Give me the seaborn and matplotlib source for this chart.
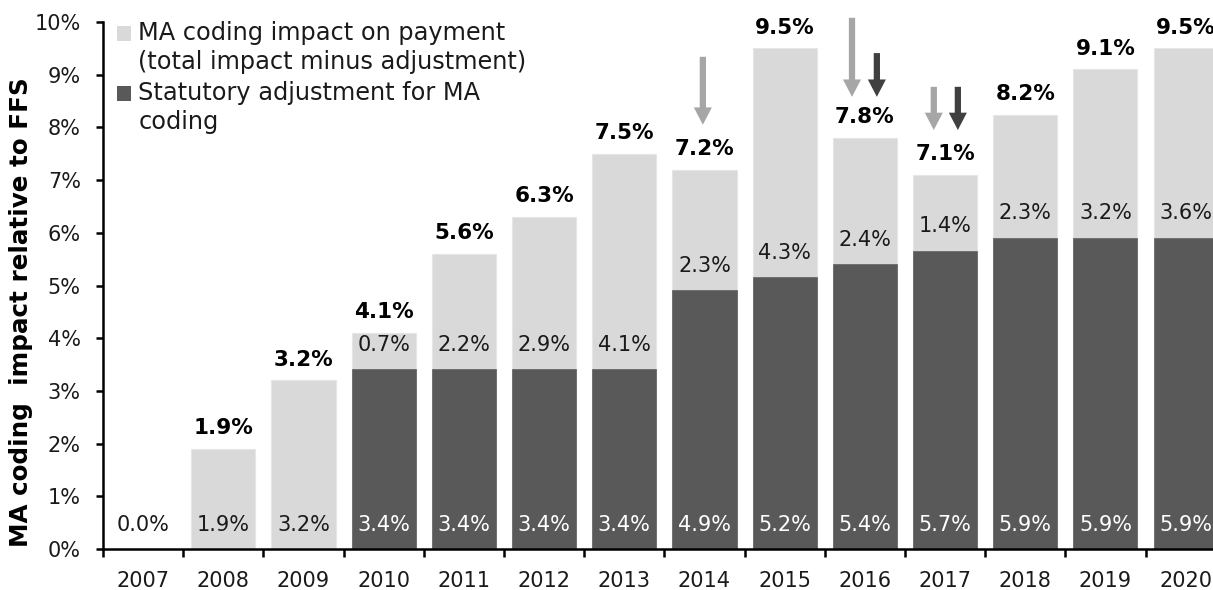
import matplotlib
matplotlib.use("Agg")
import matplotlib.pyplot as plt
from matplotlib.patches import Patch, Rectangle
from matplotlib.legend_handler import HandlerPatch
from matplotlib.ticker import FixedLocator, FuncFormatter
import seaborn as sns
import pandas as pd
import numpy as np

# ---- data ----
years = ["2007", "2008", "2009", "2010", "2011", "2012", "2013",
         "2014", "2015", "2016", "2017", "2018", "2019", "2020"]
statutory_adjustment = [0.0, 0.0, 0.0, 3.41, 3.41, 3.41, 3.41,
                        4.91, 5.16, 5.41, 5.66, 5.91, 5.91, 5.91]
coding_impact_on_payment = [0.0, 1.9, 3.2, 0.69, 2.19, 2.89, 4.09,
                            2.29, 4.34, 2.39, 1.44, 2.33, 3.19, 3.59]
y_ticks = [0, 1, 2, 3, 4, 5, 6, 7, 8, 9, 10]
legend_labels = ["MA coding impact on payment\n(total impact minus adjustment)",
                 "Statutory adjustment for MA\ncoding"]
y_label = "MA coding  impact relative to FFS"

LIGHT = "#d9d9d9"
DARK = "#595959"
ARROW_LIGHT = "#a6a6a6"
ARROW_DARK = "#404040"
TXT = "#1a1a1a"

sns.set_style("white")
plt.rcParams["font.family"] = ["DejaVu Sans"]

df = pd.DataFrame({
    "year": years,
    "adj": statutory_adjustment,
    "impact": coding_impact_on_payment,
})
df["total"] = df["adj"] + df["impact"]

W, H = 1213, 590
fig = plt.figure(figsize=(W / 100, H / 100), dpi=100)
ax = fig.add_axes([103 / W, 41 / H, 1122.7 / W, 527 / H])

sns.barplot(data=df, x="year", y="total", color=LIGHT, saturation=1,
            width=0.8, ax=ax, edgecolor="#e6e6e6", linewidth=0.8)
sns.barplot(data=df, x="year", y="adj", color=DARK, saturation=1,
            width=0.8, ax=ax, edgecolor="#6a6a6a", linewidth=0.6)

ax.set_xlim(-0.5, len(years) - 0.5)
ax.set_ylim(0, 10)

# value labels
for i, row in df.iterrows():
    if row["adj"] > 0:
        ax.annotate(f"{row['adj']:.1f}%", (i, 0), xytext=(0, 13.2),
                    textcoords="offset points", ha="center", va="baseline",
                    fontsize=15, color="white")
        ax.annotate(f"{row['impact']:.1f}%", (i, row["adj"]), xytext=(0, 13.2),
                    textcoords="offset points", ha="center", va="baseline",
                    fontsize=15, color=TXT)
    else:
        ax.annotate(f"{row['impact']:.1f}%", (i, 0), xytext=(0, 13.2),
                    textcoords="offset points", ha="center", va="baseline",
                    fontsize=15, color=TXT)
    if row["total"] > 0:
        ax.annotate(f"{row['total']:.1f}%", (i, row["total"]), xytext=(0, 10.5),
                    textcoords="offset points", ha="center", va="baseline",
                    fontsize=15.5, fontweight="bold", color="black",
                    annotation_clip=False)

# arrows
def arrow(x, y0, y1, color):
    ax.annotate("", xy=(x, y1), xytext=(x, y0),
                arrowprops=dict(facecolor=color, edgecolor="none", width=4.5,
                                headwidth=13, headlength=12.5, shrink=0),
                annotation_clip=False)

i14, i16, i17 = years.index("2014"), years.index("2016"), years.index("2017")
arrow(i14 - 0.02, 9.34, 8.05, ARROW_LIGHT)
arrow(i16 - 0.16, 10.08, 8.58, ARROW_LIGHT)
arrow(i16 + 0.15, 9.41, 8.58, ARROW_DARK)
arrow(i17 - 0.14, 8.77, 7.95, ARROW_LIGHT)
arrow(i17 + 0.16, 8.77, 7.95, ARROW_DARK)

# axes styling
for s in ["top", "right"]:
    ax.spines[s].set_visible(False)
for s in ["left", "bottom"]:
    ax.spines[s].set_color("black")
    ax.spines[s].set_linewidth(1.8)

ax.yaxis.set_major_locator(FixedLocator(y_ticks))
ax.yaxis.set_major_formatter(FuncFormatter(lambda v, p: f"{v:.0f}%"))
ax.tick_params(axis="y", which="major", direction="out", length=5, width=1.8,
               color="black", labelsize=15, pad=11, left=True, labelcolor=TXT)
ax.tick_params(axis="x", which="major", length=0, labelsize=15, pad=16,
               labelcolor=TXT)
ax.set_xticks(np.arange(-0.5, len(years), 1.0), minor=True)
ax.tick_params(axis="x", which="minor", direction="out", length=6, width=1.8,
               color="black", bottom=True)
ax.set_xlabel("")
ax.set_ylabel(y_label, fontsize=17.7, fontweight="bold", color="black")
ax.yaxis.label.set_va("center")
ax.yaxis.set_label_coords((21.5 - 103) / 1122.7, (549 - 312.5) / 527)


# legend: square handle aligned with the first line of each two-line label
class TopSquareHandler(HandlerPatch):
    def __init__(self, shift, **kw):
        super().__init__(**kw)
        self.shift = shift

    def create_artists(self, legend, orig_handle, xdescent, ydescent,
                       width, height, fontsize, trans):
        p = Rectangle((-xdescent, -ydescent + self.shift), width, height,
                      facecolor=orig_handle.get_facecolor(), edgecolor="none",
                      transform=trans)
        return [p]


LEG_FS = 17.3
handles = [Patch(facecolor=LIGHT, edgecolor="none"),
           Patch(facecolor=DARK, edgecolor="none")]
leg = fig.legend(handles, legend_labels, loc="upper left",
                 bbox_to_anchor=(117 / W, (H - 21) / H),
                 bbox_transform=fig.transFigure,
                 frameon=False, fontsize=LEG_FS, handlelength=0.58,
                 handleheight=0.58, handletextpad=0.3, labelspacing=0.27,
                 borderpad=0, borderaxespad=0, labelcolor=TXT,
                 handler_map={Patch: TopSquareHandler(shift=10.8)})
for t in leg.get_texts():
    t.set_linespacing(1.27)

fig.savefig("out.png", dpi=100)
